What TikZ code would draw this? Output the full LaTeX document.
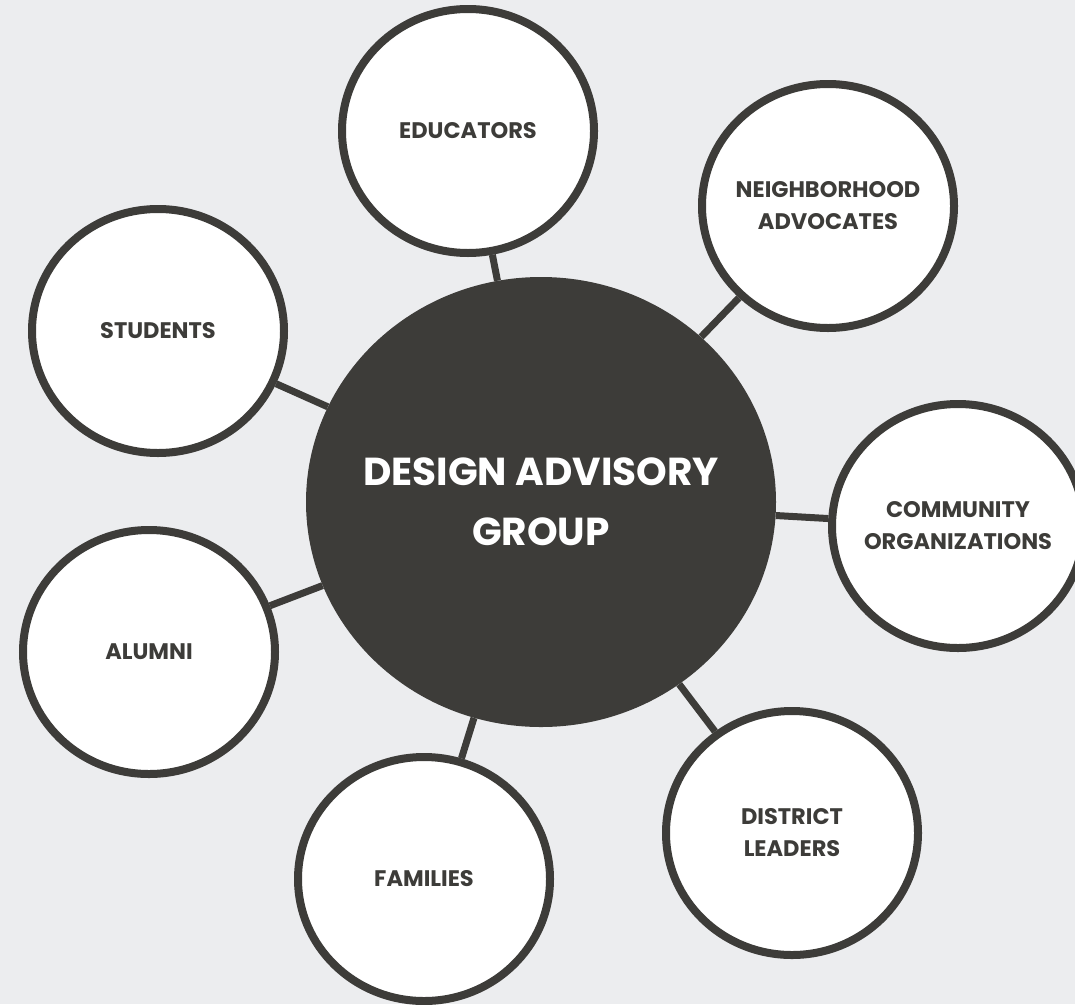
\documentclass[tikz,border=0pt]{standalone}
\usepackage{fontspec}
\setmainfont{Poppins}
\usepackage{tikz}
\usetikzlibrary{shapes.geometric}
\definecolor{darkgrey}{HTML}{3D3C39}
\definecolor{bggrey}{HTML}{ECEDEF}
\tikzset{
	member/.style={ellipse, draw=darkgrey, line width=8pt, fill=white, minimum width=252pt, minimum height=244pt, inner sep=-40pt, align=center, text=darkgrey, font=\fontsize{22.5}{32}\selectfont\bfseries},
	hub/.style={ellipse, fill=darkgrey, minimum width=470pt, minimum height=450pt, inner sep=-80pt, align=center, text=white, font=\fontsize{39}{60}\selectfont\bfseries},
	link/.style={draw=darkgrey, line width=7pt}
}

\begin{document}
\begin{tikzpicture}[x=1pt, y=-1pt]
			\useasboundingbox (0,0) rectangle (1075,1004);
			\fill[bggrey] (0,0) rectangle (1075,1004);
			\node[hub] (group) at (541,502) {DESIGN ADVISORY\\GROUP};
			\node[member] (educators) at (468,131) {EDUCATORS};
			\node[member] (neighborhood) at (828,206) {NEIGHBORHOOD\\ADVOCATES};
			\node[member] (students) at (158,331) {STUDENTS};
			\node[member] (community) at (958,526) {COMMUNITY\\ORGANIZATIONS};
			\node[member] (alumni) at (149,652) {ALUMNI};
			\node[member] (families) at (424,879) {FAMILIES};
			\node[member] (district) at (792,833) {DISTRICT\\LEADERS};
			\foreach \m in {educators, neighborhood, students, community, alumni, families, district}
				\draw[link] (group) -- (\m);
		\end{tikzpicture}
\end{document}
